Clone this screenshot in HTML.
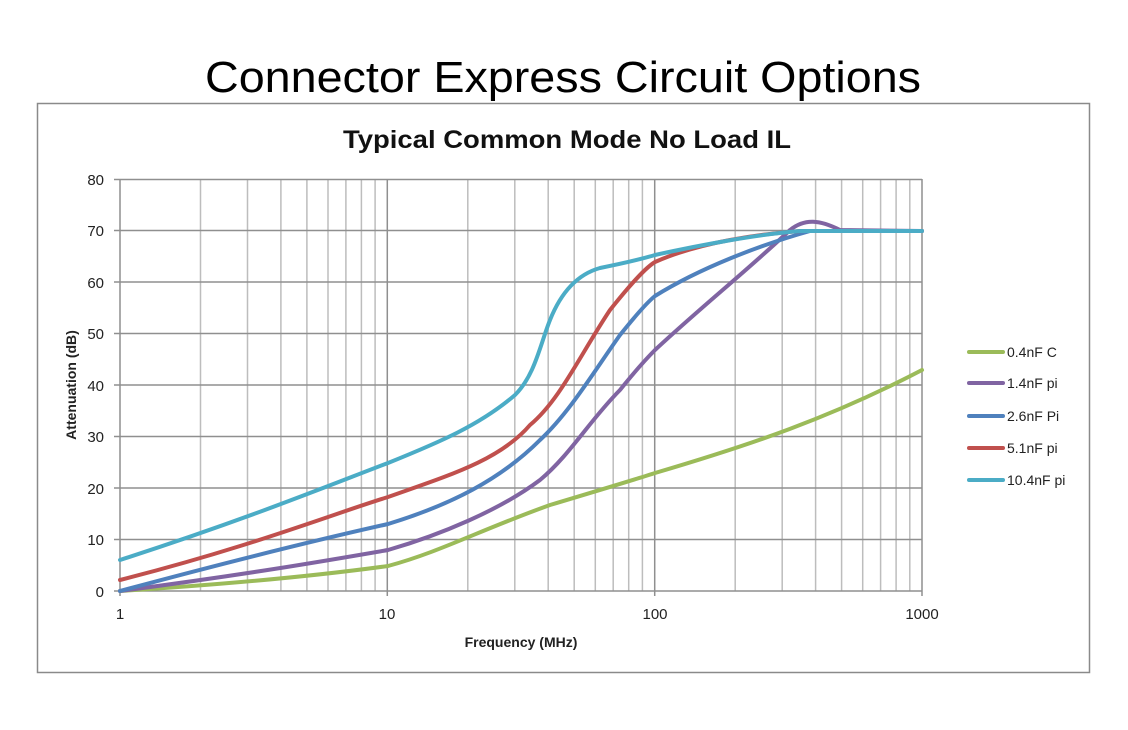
<!DOCTYPE html>
<html><head><meta charset="utf-8"><style>
html,body{margin:0;padding:0;background:#fff;}
svg{display:block;}
</style></head><body>
<svg width="1128" height="730" viewBox="0 0 1128 730" xmlns="http://www.w3.org/2000/svg" font-family="Liberation Sans, sans-serif">
<rect width="1128" height="730" fill="#fff"/>
<text x="563" y="92" font-size="44" text-anchor="middle" textLength="716" lengthAdjust="spacingAndGlyphs" fill="#000">Connector Express Circuit Options</text>
<rect x="37.5" y="103.5" width="1052" height="569" fill="#fff" stroke="#8a8a8a" stroke-width="1.5"/>
<text x="567" y="148" font-size="25" font-weight="bold" text-anchor="middle" textLength="448" lengthAdjust="spacingAndGlyphs" fill="#111">Typical Common Mode No Load IL</text>
<g stroke="#bdbdbd" stroke-width="1.5">
<line x1="200.5" y1="179" x2="200.5" y2="591"/><line x1="247.5" y1="179" x2="247.5" y2="591"/><line x1="280.9" y1="179" x2="280.9" y2="591"/><line x1="306.9" y1="179" x2="306.9" y2="591"/><line x1="328" y1="179" x2="328" y2="591"/><line x1="345.9" y1="179" x2="345.9" y2="591"/><line x1="361.4" y1="179" x2="361.4" y2="591"/><line x1="375.1" y1="179" x2="375.1" y2="591"/>
<line x1="467.8" y1="179" x2="467.8" y2="591"/><line x1="514.8" y1="179" x2="514.8" y2="591"/><line x1="548.2" y1="179" x2="548.2" y2="591"/><line x1="574.2" y1="179" x2="574.2" y2="591"/><line x1="595.3" y1="179" x2="595.3" y2="591"/><line x1="613.2" y1="179" x2="613.2" y2="591"/><line x1="628.7" y1="179" x2="628.7" y2="591"/><line x1="642.4" y1="179" x2="642.4" y2="591"/>
<line x1="735.2" y1="179" x2="735.2" y2="591"/><line x1="782.2" y1="179" x2="782.2" y2="591"/><line x1="815.6" y1="179" x2="815.6" y2="591"/><line x1="841.6" y1="179" x2="841.6" y2="591"/><line x1="862.7" y1="179" x2="862.7" y2="591"/><line x1="880.6" y1="179" x2="880.6" y2="591"/><line x1="896.1" y1="179" x2="896.1" y2="591"/><line x1="909.8" y1="179" x2="909.8" y2="591"/>
</g>
<g stroke="#8f8f8f" stroke-width="1.5">
<line x1="387.3" y1="179" x2="387.3" y2="596"/><line x1="654.7" y1="179" x2="654.7" y2="596"/><line x1="922" y1="179" x2="922" y2="596"/>
<line x1="114" y1="179.5" x2="922" y2="179.5"/><line x1="114" y1="230.5" x2="922" y2="230.5"/><line x1="114" y1="282" x2="922" y2="282"/><line x1="114" y1="333.5" x2="922" y2="333.5"/><line x1="114" y1="385" x2="922" y2="385"/><line x1="114" y1="436.5" x2="922" y2="436.5"/><line x1="114" y1="488" x2="922" y2="488"/><line x1="114" y1="539.5" x2="922" y2="539.5"/><line x1="114" y1="591" x2="922" y2="591"/>
<line x1="120" y1="179" x2="120" y2="596"/>
</g>
<g font-size="15" fill="#222" text-anchor="end">
<text x="104" y="185">80</text><text x="104" y="236">70</text><text x="104" y="288">60</text><text x="104" y="339">50</text><text x="104" y="391">40</text><text x="104" y="442">30</text><text x="104" y="494">20</text><text x="104" y="545">10</text><text x="104" y="597">0</text>
</g>
<g font-size="15" fill="#222" text-anchor="middle">
<text x="120" y="619">1</text><text x="387" y="619">10</text><text x="655" y="619">100</text><text x="922" y="619">1000</text>
</g>
<text x="521" y="647" font-size="14" font-weight="bold" text-anchor="middle" fill="#222">Frequency (MHz)</text>
<text transform="translate(76,385) rotate(-90)" font-size="14" font-weight="bold" text-anchor="middle" fill="#222">Attenuation (dB)</text>
<g fill="none" stroke-width="4" stroke-linejoin="round" stroke-linecap="round">
<path stroke="#9bbb59" d="M120,591 C200,586 300,578 388,566 C440,552 480,530 550,505 C600,490 640,478 655,473 C750,445 830,418 922,370"/>
<path stroke="#8064a2" d="M120,591 C250,574 330,560 388,550 C440,535 500,510 540,480 C570,455 590,420 620,390 C640,365 650,355 655,350 C700,308 750,268 790,230 C805,218 820,220 840,230 L922,231"/>
<path stroke="#4f81bd" d="M120,591 C250,556 330,537 388,524 C450,505 500,480 540,440 C570,412 595,370 620,335 C640,310 650,300 655,296 C700,268 760,245 810,231 L922,231"/>
<path stroke="#c0504d" d="M120,580 C250,547 330,515 388,497 C450,475 500,460 530,425 C560,400 580,355 610,310 C630,285 645,268 655,262 C700,242 760,234 800,231 L922,231"/>
<path stroke="#4bacc6" d="M120,560 C250,518 330,485 388,463 C440,442 480,425 515,395 C535,375 540,345 550,320 C560,295 575,275 600,268 C630,262 645,258 655,255 C700,245 760,234 800,231 L922,231"/>
</g>
<g stroke-width="4" stroke-linecap="round">
<line x1="969" y1="352" x2="1003" y2="352" stroke="#9bbb59"/>
<line x1="969" y1="383" x2="1003" y2="383" stroke="#8064a2"/>
<line x1="969" y1="416" x2="1003" y2="416" stroke="#4f81bd"/>
<line x1="969" y1="448" x2="1003" y2="448" stroke="#c0504d"/>
<line x1="969" y1="480" x2="1003" y2="480" stroke="#4bacc6"/>
</g>
<g font-size="14" fill="#222">
<text x="1007" y="357">0.4nF C</text><text x="1007" y="388">1.4nF pi</text><text x="1007" y="421">2.6nF Pi</text><text x="1007" y="453">5.1nF pi</text><text x="1007" y="485">10.4nF pi</text>
</g>
</svg>
</body></html>
